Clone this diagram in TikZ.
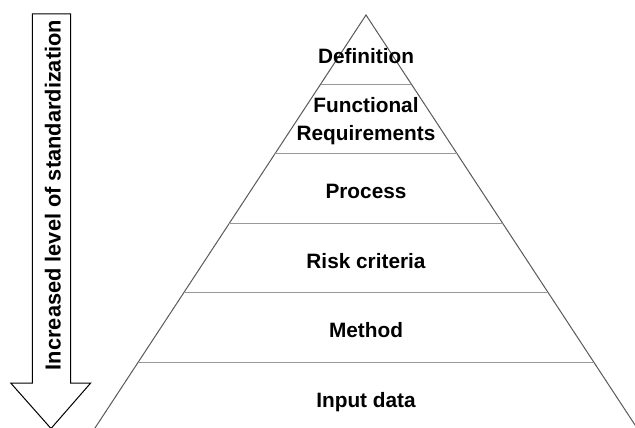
\documentclass[tikz,border=0pt]{standalone}
\usepackage{fontspec}
\setmainfont{Liberation Sans}
\begin{document}
\begin{tikzpicture}[x=1pt,y=-1pt,
  side/.style={draw=black!65,line width=1pt},
  layerline/.style={draw=black!40,line width=1.3pt},
  label/.style={font=\fontsize{20.8}{27}\selectfont\bfseries,align=center,anchor=base,inner sep=0pt},
  bigarrow/.style={draw=black,line width=1pt,fill=white}]
\useasboundingbox (0,0) rectangle (635,428);
\clip (0,0) rectangle (635,428);

% pyramid outline (base runs past the lower edge)
\coordinate (apex) at (366,15);
\coordinate (bl) at (84.5,444);
\coordinate (br) at (647.5,444);
\draw[side] (bl) -- (apex) -- (br);

% layer separators, ending on the sides
\foreach \y/\n in {84.3/1,153.8/2,223.3/3,292.8/4,362.3/5}{
  \pgfmathsetmacro{\hw}{0.6565*(\y-15)}
  \coordinate (L\n) at (366-\hw,\y);
  \coordinate (R\n) at (366+\hw,\y);
  \draw[layerline] (L\n) -- (R\n);
}

% layer labels
\node[label] (def) at (366,63.3) {Definition};
\node[label] (fun) at (366,113) {Functional};
\node[label] (req) at (366,140) {Requirements};
\node[label] (pro) at (366,198) {Process};
\node[label] (ris) at (366,268) {Risk criteria};
\node[label] (met) at (366,337.5) {Method};
\node[label] (inp) at (366,407) {Input data};

% downward arrow
\draw[bigarrow] (32.3,14) -- (70.5,14) -- (70.5,383) -- (90.7,383)
  -- (51,428.5) -- (10.7,383) -- (32.3,383) -- cycle;
\node[label,rotate=90,font=\fontsize{21.8}{27}\selectfont\bfseries] (std) at (60.5,195) {Increased level of standardization};
\end{tikzpicture}
\end{document}
